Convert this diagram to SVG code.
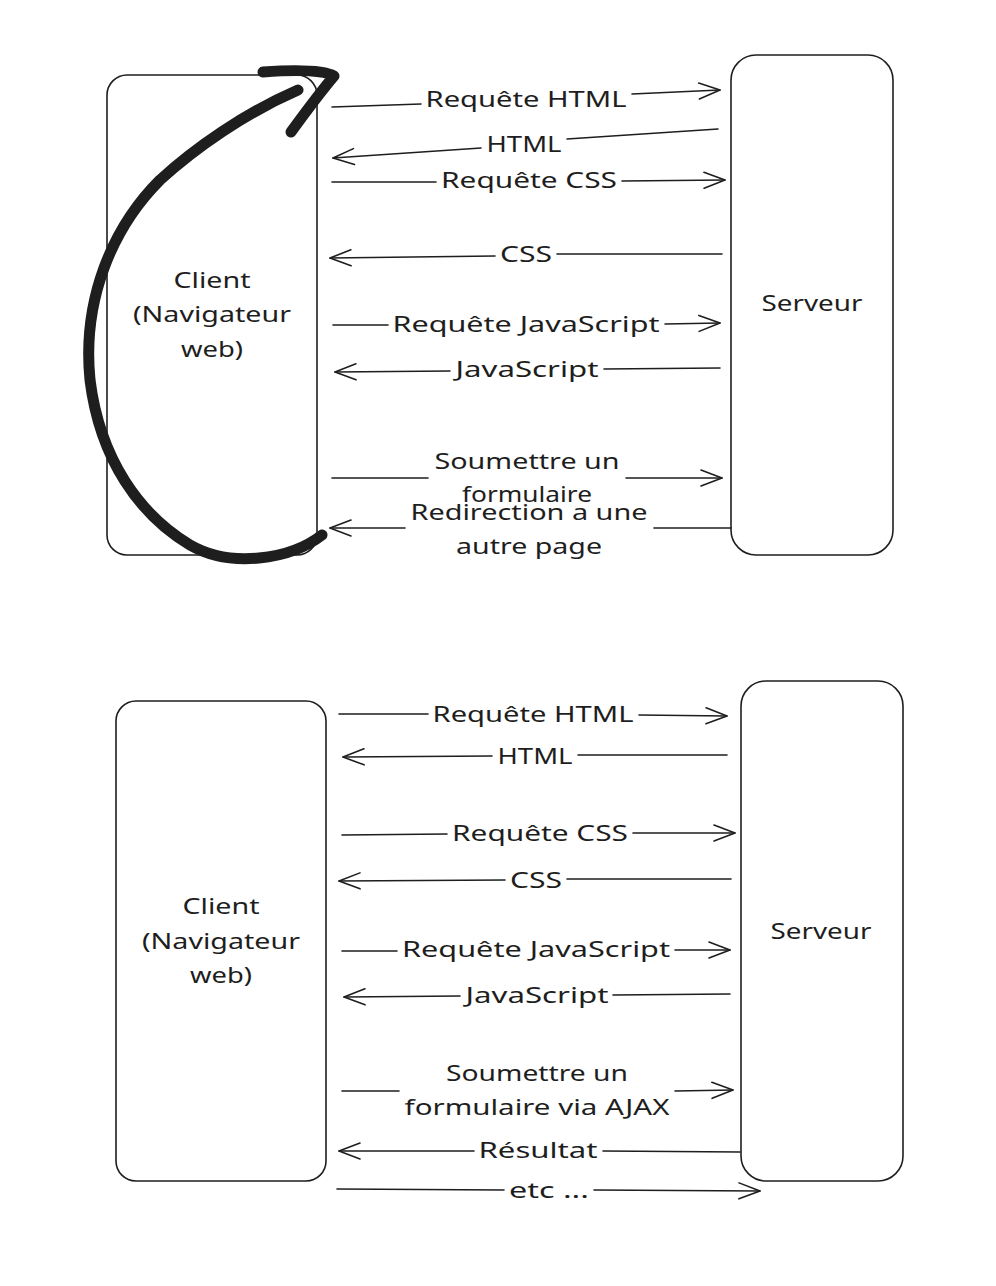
<svg xmlns="http://www.w3.org/2000/svg" width="996" height="1286" viewBox="0 0 996 1286">
<defs>
<style>
.box{fill:#fff;stroke:#1e1e1e;stroke-width:1.6}
.lbl{font-family:"Noto Sans","DejaVu Sans",sans-serif;font-size:22px;fill:#1e1e1e;text-anchor:middle}
.con{fill:none;stroke:#1e1e1e;stroke-width:1.6;stroke-linecap:round}
.thick{fill:none;stroke:#1e1e1e;stroke-width:11;stroke-linecap:round;stroke-linejoin:round}
</style>
<marker id="ah" markerUnits="userSpaceOnUse" markerWidth="24" markerHeight="20" refX="21" refY="9" orient="auto" overflow="visible">
<path d="M0,1 L21,9 L0,17" fill="none" stroke="#1e1e1e" stroke-width="1.6" stroke-linecap="round" stroke-linejoin="round"/>
</marker>
</defs>
<rect width="996" height="1286" fill="#fff"/>

<!-- Top diagram -->
<g id="client-top">
<rect class="box" x="107" y="75" width="210" height="480" rx="20"/>
<text class="lbl" x="212" y="288" textLength="77" lengthAdjust="spacingAndGlyphs">Client</text>
<text class="lbl" x="212" y="322" textLength="158" lengthAdjust="spacingAndGlyphs">(Navigateur</text>
<text class="lbl" x="212" y="357" textLength="62" lengthAdjust="spacingAndGlyphs">web)</text>
</g>
<g id="server-top">
<rect class="box" x="731" y="55" width="162" height="500" rx="25"/>
<text class="lbl" x="812" y="311" textLength="101" lengthAdjust="spacingAndGlyphs">Serveur</text>
</g>

<g id="connectors-top">
<path class="con" marker-end="url(#ah)" d="M332,107 L421,104 M632,94 L720,90"/>
<text class="lbl" x="526" y="107" textLength="201" lengthAdjust="spacingAndGlyphs">Requête HTML</text>
<path class="con" marker-end="url(#ah)" d="M718,129 L567,139 M481,148 L333,158"/>
<text class="lbl" x="524" y="152" textLength="75" lengthAdjust="spacingAndGlyphs">HTML</text>
<path class="con" marker-end="url(#ah)" d="M332,182 L436,182 M622,181 L725,180"/>
<text class="lbl" x="529" y="188" textLength="176" lengthAdjust="spacingAndGlyphs">Requête CSS</text>
<path class="con" marker-end="url(#ah)" d="M722,254 L557,254 M495,256 L330,258"/>
<text class="lbl" x="526" y="262" textLength="52" lengthAdjust="spacingAndGlyphs">CSS</text>
<path class="con" marker-end="url(#ah)" d="M333,325 L388,325 M665,324 L720,323"/>
<text class="lbl" x="526" y="332" textLength="267" lengthAdjust="spacingAndGlyphs">Requête JavaScript</text>
<path class="con" marker-end="url(#ah)" d="M720,368 L604,369 M450,371 L335,372"/>
<text class="lbl" x="527" y="377" textLength="143" lengthAdjust="spacingAndGlyphs">JavaScript</text>
<path class="con" marker-end="url(#ah)" d="M332,478 L428,478 M626,478 L722,478"/>
<text class="lbl" x="527" y="469" textLength="185" lengthAdjust="spacingAndGlyphs">Soumettre un</text>
<text class="lbl" x="527" y="502" textLength="130" lengthAdjust="spacingAndGlyphs">formulaire</text>
<path class="con" marker-end="url(#ah)" d="M731,528 L654,528 M405,528 L330,528"/>
<text class="lbl" x="529" y="520" textLength="237" lengthAdjust="spacingAndGlyphs">Redirection a une</text>
<text class="lbl" x="529" y="554" textLength="146" lengthAdjust="spacingAndGlyphs">autre page</text>
</g>

<g id="loop-stroke">
<path class="thick" d="M322,535 C290,560 230,568 190,545 C140,515 100,460 90,380 C82,300 112,228 160,180 C195,148 245,113 298,90"/>
<path class="thick" d="M263,72 Q320,68 334,76 Q318,95 291,132"/>
</g>

<!-- Bottom diagram -->
<g id="client-bottom">
<rect class="box" x="116" y="701" width="210" height="480" rx="20"/>
<text class="lbl" x="221" y="914" textLength="77" lengthAdjust="spacingAndGlyphs">Client</text>
<text class="lbl" x="221" y="949" textLength="158" lengthAdjust="spacingAndGlyphs">(Navigateur</text>
<text class="lbl" x="221" y="983" textLength="62" lengthAdjust="spacingAndGlyphs">web)</text>
</g>
<g id="server-bottom">
<rect class="box" x="741" y="681" width="162" height="500" rx="25"/>
<text class="lbl" x="821" y="939" textLength="101" lengthAdjust="spacingAndGlyphs">Serveur</text>
</g>

<g id="connectors-bottom">
<path class="con" marker-end="url(#ah)" d="M339,714 L428,714 M639,715 L727,716"/>
<text class="lbl" x="533" y="722" textLength="201" lengthAdjust="spacingAndGlyphs">Requête HTML</text>
<path class="con" marker-end="url(#ah)" d="M727,755 L578,755 M492,756 L343,757"/>
<text class="lbl" x="535" y="764" textLength="75" lengthAdjust="spacingAndGlyphs">HTML</text>
<path class="con" marker-end="url(#ah)" d="M342,835 L447,834 M633,833 L735,833"/>
<text class="lbl" x="540" y="841" textLength="176" lengthAdjust="spacingAndGlyphs">Requête CSS</text>
<path class="con" marker-end="url(#ah)" d="M731,879 L567,879 M505,880 L339,881"/>
<text class="lbl" x="536" y="888" textLength="52" lengthAdjust="spacingAndGlyphs">CSS</text>
<path class="con" marker-end="url(#ah)" d="M342,951 L397,951 M675,950 L730,950"/>
<text class="lbl" x="536" y="957" textLength="268" lengthAdjust="spacingAndGlyphs">Requête JavaScript</text>
<path class="con" marker-end="url(#ah)" d="M730,994 L613,995 M460,996 L344,997"/>
<text class="lbl" x="537" y="1003" textLength="143" lengthAdjust="spacingAndGlyphs">JavaScript</text>
<path class="con" marker-end="url(#ah)" d="M342,1091 L399,1091 M675,1091 L733,1090"/>
<text class="lbl" x="537" y="1081" textLength="182" lengthAdjust="spacingAndGlyphs">Soumettre un</text>
<text class="lbl" x="537" y="1115" textLength="265" lengthAdjust="spacingAndGlyphs">formulaire via AJAX</text>
<path class="con" marker-end="url(#ah)" d="M740,1152 L603,1151 M474,1151 L339,1151"/>
<text class="lbl" x="538" y="1158" textLength="119" lengthAdjust="spacingAndGlyphs">Résultat</text>
<path class="con" marker-end="url(#ah)" d="M337,1189 L504,1190 M594,1190 L760,1191"/>
<text class="lbl" x="549" y="1198" textLength="80" lengthAdjust="spacingAndGlyphs">etc ...</text>
</g>
</svg>
